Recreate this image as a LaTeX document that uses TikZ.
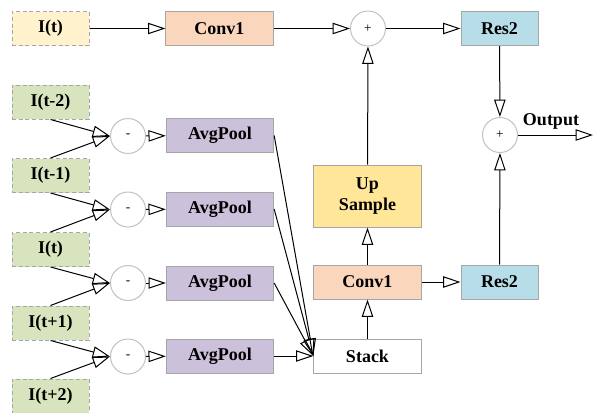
\documentclass[tikz,border=0pt]{standalone}
\usepackage{fontspec}
\setmainfont{Liberation Serif}
\usepackage{tikz}
\usetikzlibrary{arrows.meta}

\definecolor{inyellow}{HTML}{FFF2CC}
\definecolor{ingreen}{HTML}{D7E4BD}
\definecolor{convpeach}{HTML}{F9D6BC}
\definecolor{poolpurple}{HTML}{CCC1DA}
\definecolor{resblue}{HTML}{B7DDE8}
\definecolor{upyellow}{HTML}{FFE699}
\definecolor{edgegray}{HTML}{A6A6A6}

\begin{document}
\begin{tikzpicture}[x=0.75pt,y=-0.75pt,
	font=\fontsize{13.5}{14.5}\selectfont\bfseries,
	line width=0.75pt,
	>={Triangle[open,length=13pt,width=8.5pt]},
	blk/.style={draw=edgegray,minimum height=25.5pt,inner sep=0pt},
	wide/.style={blk,minimum width=80.5pt},
	narrow/.style={blk,minimum width=57.75pt},
	frame/.style={narrow,dashed,dash pattern=on 3pt off 2pt},
	op/.style={circle,draw=edgegray!70,minimum size=26.25pt,inner sep=0pt,font=\normalsize}]
	\useasboundingbox (0,0) rectangle (594,412);

	% inputs
	\node[frame,fill=inyellow] (it) at (50.5,28.5) {I(t)};
	\node[frame,fill=ingreen] (im2) at (50.5,102) {I(t-2)};
	\node[frame,fill=ingreen] (im1) at (50.5,175.5) {I(t-1)};
	\node[frame,fill=ingreen] (i0) at (50.5,249.5) {I(t)};
	\node[frame,fill=ingreen] (ip1) at (50.5,323) {I(t+1)};
	\node[frame,fill=ingreen] (ip2) at (50.5,396) {I(t+2)};

	% differences
	\node[op] (d1) at (128,136) {-};
	\node[op] (d2) at (128,209.5) {-};
	\node[op] (d3) at (128,283) {-};
	\node[op] (d4) at (128,356.5) {-};
	\node[wide,fill=poolpurple] (p1) at (220,135.5) {AvgPool};
	\node[wide,fill=poolpurple] (p2) at (220,209) {AvgPool};
	\node[wide,fill=poolpurple] (p3) at (220,283) {AvgPool};
	\node[wide,fill=poolpurple] (p4) at (220,356) {AvgPool};

	% main path
	\node[wide,fill=convpeach] (ca) at (219.5,28.5) {Conv1};
	\node[op] (sa) at (368,28.5) {+};
	\node[narrow,fill=resblue] (ra) at (499.5,28.5) {Res2};
	\node[op] (sb) at (500,135) {+};
	\node[wide,fill=upyellow,minimum height=46.5pt,align=center] (up) at (367.5,196) {Up\\[1pt]Sample};
	\node[wide,fill=convpeach] (cb) at (367.5,282) {Conv1};
	\node[narrow,fill=resblue] (rb) at (499.5,282) {Res2};
	\node[wide,fill=white] (st) at (367.5,356) {Stack};
	\coordinate (out) at (593,135);
	\node (outlbl) at (551,121) {Output};

	\draw[->] (im2.south) -- (d1.west);
	\draw[->] (im1.north) -- (d1.west);
	\draw[->] (im1.south) -- (d2.west);
	\draw[->] (i0.north) -- (d2.west);
	\draw[->] (i0.south) -- (d3.west);
	\draw[->] (ip1.north) -- (d3.west);
	\draw[->] (ip1.south) -- (d4.west);
	\draw[->] (ip2.north) -- (d4.west);
	\draw[->] (d1) -- (p1);
	\draw[->] (d2) -- (p2);
	\draw[->] (d3) -- (p3);
	\draw[->] (d4) -- (p4);
	\draw[->] (p1.east) -- (st.west);
	\draw[->] (p2.east) -- (st.west);
	\draw[->] (p3.east) -- (st.west);
	\draw[->] (p4.east) -- (st.west);

	\draw[->] (it) -- (ca);
	\draw[->] (ca) -- (sa);
	\draw[->] (sa) -- (ra);
	\draw[->] (ra) -- (sb);
	\draw[->] (st) -- (cb);
	\draw[->] (cb) -- (up);
	\draw[->] (up) -- (sa);
	\draw[->] (cb) -- (rb);
	\draw[->] (rb) -- (sb);
	\draw[->] (sb) -- (out);
\end{tikzpicture}
\end{document}
